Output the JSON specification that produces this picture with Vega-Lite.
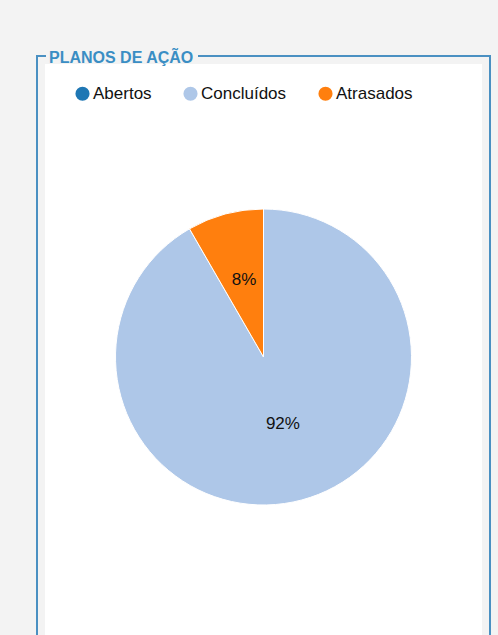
{
  "$schema": "https://vega.github.io/schema/vega-lite/v6.json",
  "width": 453,
  "height": 602,
  "autosize": {"type": "none"},
  "padding": {"left": 37, "top": 56, "right": 8, "bottom": 0},
  "background": "#f3f3f3",
  "config": {"view": {"stroke": null}, "font": "Liberation Sans"},
  "title": {
    "text": "PLANOS DE AÇÃO",
    "anchor": "start",
    "fontSize": 16,
    "fontWeight": "bold",
    "font": "Liberation Sans",
    "color": "#3a8ec4",
    "baseline": "middle",
    "offset": 0,
    "dx": 20,
    "dy": 26
  },
  "data": {
    "values": [
      {"categoria": "Abertos", "valor": 0, "rotulo": ""},
      {"categoria": "Concluídos", "valor": 11, "rotulo": "92%"},
      {"categoria": "Atrasados", "valor": 1, "rotulo": "8%"}
    ]
  },
  "layer": [
    {
      "mark": {"type": "rect", "fill": "white", "stroke": "#f3f3f3", "strokeWidth": 16},
      "encoding": {}
    },
    {
      "mark": {"type": "rect", "fill": null, "fillOpacity": 0, "stroke": "#4a90c2", "strokeWidth": 2, "strokeDash": [9, 152, 4000]},
      "encoding": {}
    },
    {
      "mark": {"type": "arc", "outerRadius": 148, "stroke": "white", "strokeWidth": 1},
      "encoding": {
        "theta": {"field": "valor", "type": "quantitative", "stack": true},
        "order": {"field": "categoria", "type": "nominal", "sort": "descending"},
        "color": {
          "field": "categoria",
          "type": "nominal",
          "sort": ["Abertos", "Concluídos", "Atrasados"],
          "scale": {"domain": ["Abertos", "Concluídos", "Atrasados"], "range": ["#1f77b4", "#aec7e8", "#ff7f0e"]},
          "legend": {
            "title": null,
            "orient": "none",
            "direction": "horizontal",
            "legendX": 37,
            "legendY": 29,
            "symbolType": "circle",
            "symbolSize": 200,
            "symbolStrokeWidth": 0,
            "symbolOpacity": 1,
            "labelFontSize": 17,
            "labelFont": "Liberation Sans",
            "labelColor": "#111",
            "labelOffset": 2,
            "columnPadding": 30
          }
        }
      }
    },
    {
      "mark": {"type": "text", "radius": 75, "fontSize": 17, "dy": -5, "font": "Liberation Sans"},
      "encoding": {
        "theta": {"field": "valor", "type": "quantitative", "stack": true},
        "order": {"field": "categoria", "type": "nominal", "sort": "descending"},
        "color": {"field": "categoria", "type": "nominal", "sort": ["Abertos", "Concluídos", "Atrasados"]},
        "fill": {"value": "#111"},
        "text": {"field": "rotulo", "type": "nominal"}
      }
    }
  ]
}
